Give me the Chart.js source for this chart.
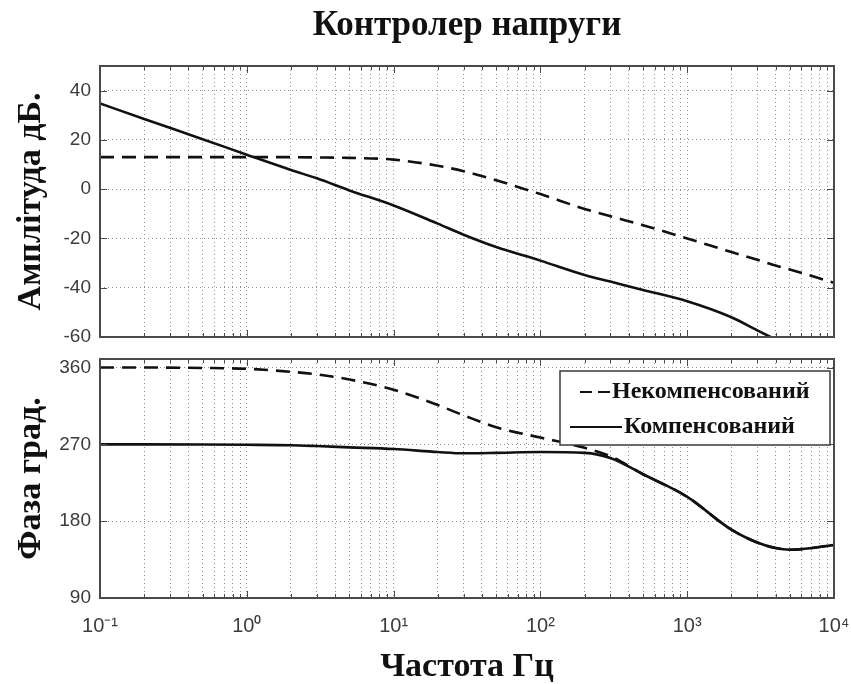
<!DOCTYPE html>
<html><head><meta charset="utf-8">
<script src="https://cdn.jsdelivr.net/npm/chart.js@4/dist/chart.umd.min.js"></script>
<style>
html,body{margin:0;padding:0;background:#fff;}
#wrap{position:relative;width:851px;height:684px;overflow:hidden;background:#fff;}
#c1{position:absolute;left:0;top:0;}
#c2{position:absolute;left:0;top:345px;}
</style></head><body>
<div id="wrap">
<canvas id="c1" width="851" height="345"></canvas>
<canvas id="c2" width="851" height="339"></canvas>
</div>
<script>
// ---- data ----
const frequencies = [0.1,0.2,0.5,1,2,3,5,10,20,30,50,100,200,300,500,1000,2000,3000,4000,5000,10000];
const magUncompensated = [13,13,13,13,13,12.9,12.7,12,9.5,7.3,3.6,-2,-8,-11,-14.6,-20,-25.5,-28.6,-31,-32.6,-38];
const magCompensated = [34.8,28.5,20.3,14,7.8,4.4,-0.5,-6.6,-14,-18.5,-23.5,-29,-34.8,-37.5,-40.9,-45.5,-52,-57.3,-61,null,null];
const phaseUncompensated = [360,360,359.5,358.5,355,352,346,334,316,304,290,278,266,256,235,208.5,170,155,148.5,146.5,152];
const phaseCompensated = [270,270,269.8,269.5,269,268,266.5,264.5,261,259.5,260,261,260,254,235,208.5,170,155,148.5,146.5,152];
const seriesLabels = ['Некомпенсований','Компенсований'];
const titleText = 'Контролер напруги';
const magAxisTitle = 'Амплітуда дБ.';
const phaseAxisTitle = 'Фаза град.';
const freqAxisTitle = 'Частота Гц';
const decadeTicks = [0.1,1,10,100,1000,10000];
const decadeLabels = ['10⁻¹','10⁰','10¹','10²','10³','10⁴'];
const magTicks = [-60,-40,-20,0,20,40];
const phaseTicks = [90,180,270,360];

// ---- helpers ----
const serif = 'Liberation Serif, Times New Roman, serif';
const sans = 'Liberation Sans, Arial, sans-serif';
const gridColor = '#8f8f8f';
const frameColor = '#4a4a4a';

function logTickList() {
  const out = [];
  for (let d = 0; d < decadeTicks.length - 1; d++) {
    for (let k = 1; k <= 9; k++) {
      out.push({value: +(decadeTicks[d] * k).toPrecision(6), major: k === 1, label: k === 1 ? decadeLabels[d] : ''});
    }
  }
  out.push({value: decadeTicks[decadeTicks.length - 1], major: true, label: decadeLabels[decadeLabels.length - 1]});
  return out;
}
const toPts = arr => frequencies.map((f, i) => ({x: f, y: arr[i]}));

const framePlugin = {
  id: 'frame',
  afterDatasetsDraw(chart) {
    const {ctx, chartArea: {left, right, top, bottom}, scales: {x, y}} = chart;
    ctx.save();
    ctx.setLineDash([]);
    ctx.strokeStyle = frameColor;
    ctx.lineWidth = 1;
    ctx.beginPath();
    x.ticks.forEach(t => {
      const px = Math.round(x.getPixelForValue(t.value)) + 0.5;
      const len = t.major ? 7 : 4;
      ctx.moveTo(px, bottom); ctx.lineTo(px, bottom - len);
      ctx.moveTo(px, top); ctx.lineTo(px, top + len);
    });
    y.ticks.forEach(t => {
      const py = Math.round(y.getPixelForValue(t.value)) + 0.5;
      ctx.moveTo(left, py); ctx.lineTo(left + 7, py);
      ctx.moveTo(right, py); ctx.lineTo(right - 7, py);
    });
    ctx.stroke();
    ctx.lineWidth = 2;
    ctx.strokeRect(left, top, right - left, bottom - top);
    ctx.restore();
  }
};

const legendPlugin = {
  id: 'boxLegend',
  afterDatasetsDraw(chart) {
    const {ctx, chartArea: {right, top}} = chart;
    const bx = right - 274, by = top + 12, bw = 270, bh = 74;
    ctx.save();
    ctx.fillStyle = '#fff';
    ctx.fillRect(bx, by, bw, bh);
    ctx.setLineDash([]);
    ctx.strokeStyle = '#3a3a3a';
    ctx.lineWidth = 1.5;
    ctx.strokeRect(bx, by, bw, bh);
    const rows = [by + 21, by + 56];
    const sampleStart = [20, 10];
    const sampleLen = [30, 52];
    chart.data.datasets.forEach((ds, i) => {
      const y = rows[i];
      const x0 = bx + sampleStart[i];
      ctx.beginPath();
      ctx.setLineDash(ds.borderDash && ds.borderDash.length ? [12, 6] : []);
      ctx.strokeStyle = ds.borderColor;
      ctx.lineWidth = 2;
      ctx.moveTo(x0, y); ctx.lineTo(x0 + sampleLen[i], y);
      ctx.stroke();
      ctx.setLineDash([]);
      ctx.fillStyle = '#111';
      ctx.font = 'bold 24px ' + serif;
      ctx.textBaseline = 'middle';
      ctx.textAlign = 'left';
      ctx.fillText(ds.label, x0 + sampleLen[i] + 2, y);
    });
    ctx.restore();
  }
};

function xScale(showLabels, height) {
  return {
    type: 'logarithmic',
    min: decadeTicks[0],
    max: decadeTicks[decadeTicks.length - 1],
    afterBuildTicks: s => { s.ticks = logTickList(); },
    afterFit: s => { s.height = height; s.paddingLeft = 0; s.paddingRight = 0; },
    grid: { display: true, color: gridColor, lineWidth: 1, drawTicks: false },
    border: { display: false, dash: [1, 3] },
    ticks: {
      display: showLabels,
      autoSkip: false, maxRotation: 0, minRotation: 0,
      padding: 16,
      color: '#3c3c3c',
      font: { family: sans, size: 20 },
      callback: (v, i, ticks) => ticks[i].label || ''
    },
    title: showLabels ? {
      display: true, text: freqAxisTitle, color: '#111',
      font: { family: serif, size: 34, weight: 'bold', lineHeight: 1 },
      padding: { top: 0, bottom: 0 }
    } : { display: false }
  };
}

function yScale(min, max, tickValues, title) {
  return {
    min, max,
    afterBuildTicks: s => { s.ticks = tickValues.map(v => ({value: v})); },
    afterFit: s => { s.width = 100; s.paddingTop = 0; s.paddingBottom = 0; },
    grid: { display: true, color: gridColor, lineWidth: 1, drawTicks: false },
    border: { display: false, dash: [1, 3] },
    ticks: { padding: 9, color: '#3c3c3c', font: { family: sans, size: 19 } },
    title: {
      display: true, text: title, color: '#111',
      font: { family: serif, size: 34, weight: 'bold', lineHeight: 1.2 },
      padding: { top: 11, bottom: 0 }
    }
  };
}

function datasets(uncomp, comp) {
  return [
    { label: seriesLabels[0], data: toPts(uncomp), borderColor: '#111', borderWidth: 2.6,
      borderDash: [14, 8], pointRadius: 0, cubicInterpolationMode: 'monotone', fill: false, clip: 0 },
    { label: seriesLabels[1], data: toPts(comp), borderColor: '#111', borderWidth: 2.6,
      pointRadius: 0, cubicInterpolationMode: 'monotone', fill: false, clip: 0, spanGaps: false }
  ];
}

new Chart(document.getElementById('c1'), {
  type: 'line',
  data: { datasets: datasets(magUncompensated, magCompensated) },
  options: {
    responsive: false, animation: false, devicePixelRatio: 1,
    layout: { padding: { left: 0, right: 17, top: 0, bottom: 0 } },
    plugins: {
      legend: { display: false }, tooltip: { enabled: false },
      title: { display: true, text: titleText, fullSize: false, color: '#111',
        font: { family: serif, size: 35, weight: 'bold', lineHeight: 1.2 },
        padding: { top: 5, bottom: 19 } }
    },
    scales: { x: xScale(false, 8), y: yScale(-60, 50, magTicks, magAxisTitle) }
  },
  plugins: [framePlugin]
});

new Chart(document.getElementById('c2'), {
  type: 'line',
  data: { datasets: datasets(phaseUncompensated, phaseCompensated) },
  options: {
    responsive: false, animation: false, devicePixelRatio: 1,
    layout: { padding: { left: 0, right: 17, top: 14, bottom: 0 } },
    plugins: { legend: { display: false }, tooltip: { enabled: false } },
    scales: { x: xScale(true, 86), y: yScale(90, 370, phaseTicks, phaseAxisTitle) }
  },
  plugins: [framePlugin, legendPlugin]
});
</script>
</body></html>
